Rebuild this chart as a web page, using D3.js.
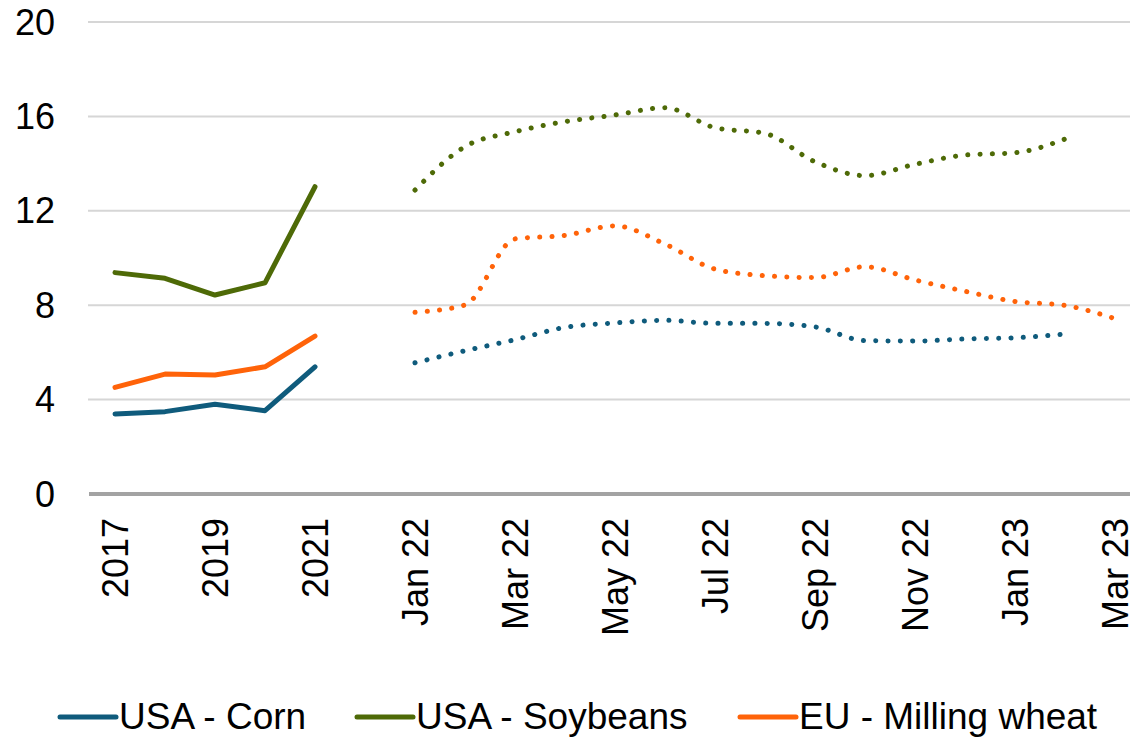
<!DOCTYPE html>
<html>
<head>
<meta charset="utf-8">
<script src="https://cdn.jsdelivr.net/npm/d3@7"></script>
<style>
  body { margin: 0; background: #fff; }
  text { font-family: Arial, "Liberation Sans", sans-serif; fill: #000; }
</style>
</head>
<body>
<svg></svg>
<script>
var width = 1130;
var height = 737;

// categories: five years, one empty slot, then monthly
var years = ['2017', '2018', '2019', '2020', '2021'];
var months = ['Jan 22', 'Feb 22', 'Mar 22', 'Apr 22', 'May 22', 'Jun 22', 'Jul 22', 'Aug 22',
  'Sep 22', 'Oct 22', 'Nov 22', 'Dec 22', 'Jan 23', 'Feb 23', 'Mar 23'];
var categories = years.concat([' '], months);

// annual values (solid)
var cornYears = [3.39, 3.49, 3.80, 3.53, 5.39];
var soyYears = [9.38, 9.14, 8.43, 8.95, 13.02];
var wheatYears = [4.52, 5.08, 5.04, 5.39, 6.69];

// monthly values (dotted)
var cornMonths = [5.56, 6.07, 6.54, 7.06, 7.25, 7.36, 7.23, 7.23, 7.08, 6.50, 6.48, 6.57, 6.62, 6.78, null];
var soyMonths = [12.88, 14.72, 15.35, 15.78, 16.06, 16.37, 15.52, 15.28, 14.08, 13.49, 13.97, 14.36, 14.46, 15.04, null];
var wheatMonths = [7.70, 8.01, 10.81, 10.96, 11.36, 10.59, 9.53, 9.25, 9.17, 9.63, 9.07, 8.59, 8.16, 7.99, 7.43];

var yTicks = [0, 4, 8, 12, 16, 20];

var series = [
  { name: 'USA - Corn', color: '#0f5b7c', annual: cornYears, monthly: cornMonths },
  { name: 'USA - Soybeans', color: '#4e6a07', annual: soyYears, monthly: soyMonths },
  { name: 'EU - Milling wheat', color: '#ff6309', annual: wheatYears, monthly: wheatMonths }
];

var svg = d3.select('svg')
  .attr('width', width)
  .attr('height', height);

var x = d3.scaleBand()
  .domain(categories)
  .range([90, 1140])
  .padding(0);

var y = d3.scaleLinear()
  .domain([0, 20])
  .range([494, 22]);

function cx(c) { return x(c) + x.bandwidth() / 2; }

// gridlines
svg.append('g')
  .selectAll('line')
  .data(yTicks.filter(d => d > 0))
  .enter().append('line')
    .attr('x1', 88)
    .attr('x2', 1140)
    .attr('y1', d => y(d))
    .attr('y2', d => y(d))
    .attr('stroke', '#d6d6d6')
    .attr('stroke-width', 2);

// y labels
svg.append('g')
  .selectAll('text')
  .data(yTicks)
  .enter().append('text')
    .attr('x', 55)
    .attr('y', d => y(d))
    .attr('dy', '0.35em')
    .attr('text-anchor', 'end')
    .attr('font-size', 36)
    .text(d => d);

// x baseline
svg.append('line')
  .attr('x1', 89)
  .attr('x2', 1140)
  .attr('y1', y(0))
  .attr('y2', y(0))
  .attr('stroke', '#a3a3a3')
  .attr('stroke-width', 4);

// x labels, every other category
svg.append('g')
  .selectAll('text')
  .data(categories.filter((c, i) => i % 2 === 0 && c.trim() !== ''))
  .enter().append('text')
    .attr('transform', d => 'translate(' + cx(d) + ',518) rotate(-90)')
    .attr('dy', '0.35em')
    .attr('text-anchor', 'end')
    .attr('font-size', 36)
    .text(d => d);

var solidLine = d3.line()
  .x((d, i) => cx(years[i]))
  .y(d => y(d));

var dottedLine = d3.line()
  .defined(d => d != null)
  .x((d, i) => cx(months[i]))
  .y(d => y(d))
  .curve(d3.curveMonotoneX);

var lines = svg.append('g');

series.forEach(function(s) {
  lines.append('path')
    .attr('d', solidLine(s.annual))
    .attr('fill', 'none')
    .attr('stroke', s.color)
    .attr('stroke-width', 5)
    .attr('stroke-linecap', 'round')
    .attr('stroke-linejoin', 'round');

  lines.append('path')
    .attr('d', dottedLine(s.monthly))
    .attr('fill', 'none')
    .attr('stroke', s.color)
    .attr('stroke-width', 5)
    .attr('stroke-linecap', 'round')
    .attr('stroke-dasharray', '0.1 12.2');
});

// legend
var legendX = [60, 357, 740];
var legend = svg.append('g')
  .selectAll('g')
  .data(series)
  .enter().append('g')
    .attr('transform', (d, i) => 'translate(' + legendX[i] + ',0)');

legend.append('line')
  .attr('x1', 0)
  .attr('x2', 56)
  .attr('y1', 717)
  .attr('y2', 717)
  .attr('stroke', d => d.color)
  .attr('stroke-width', 5)
  .attr('stroke-linecap', 'round');

legend.append('text')
  .attr('x', 59)
  .attr('y', 729)
  .attr('font-size', 37)
  .text(d => d.name);
</script>
</body>
</html>
